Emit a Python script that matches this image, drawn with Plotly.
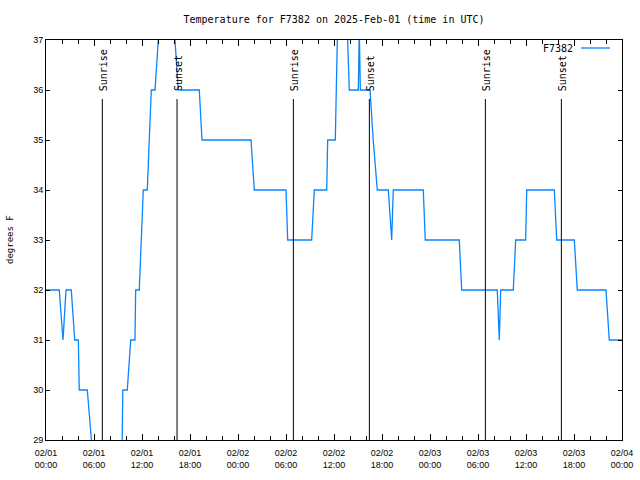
import plotly.graph_objects as go
from datetime import datetime, timedelta

# ---- data (hours after 2025-02-01 00:00 UTC, temperature in degrees F) ----
hours = [0.0, 1.66, 2.125, 2.5, 3.16, 3.59, 4.04, 4.16, 5.16, 5.59, 6.2, 9.45,
         9.6, 10.16, 10.59, 11.12, 11.21, 11.66, 12.16, 12.66, 13.16, 13.625,
         14.04, 14.45, 15.7, 16.54, 19.16, 19.5, 25.625, 26.04, 30.0, 30.21,
         33.21, 33.54, 35.09, 35.21, 36.16, 36.41, 36.54, 37.5, 37.91, 39.04,
         39.16, 39.29, 40.5, 40.9, 41.41, 42.79, 43.21, 43.41, 47.16, 47.41,
         51.66, 51.96, 56.41, 56.66, 56.84, 58.41, 58.71, 59.96, 60.09, 63.54,
         63.84, 66.04, 66.41, 70.0, 70.41, 72.0]
temps = [32, 32, 31, 32, 32, 31, 31, 30, 30, 29, 28, 28,
         30, 30, 31, 31, 32, 32, 34, 34, 36, 36,
         37, 38, 38, 36, 36, 35, 35, 34, 34, 33,
         33, 34, 34, 35, 35, 37, 38, 38, 36, 36,
         37.2, 36, 36, 35, 34, 34, 33, 34, 34, 33,
         33, 32, 32, 31, 32, 32, 33, 33, 34, 34,
         33, 33, 32, 32, 31, 31]
sunrise_hours = [7.04, 30.92, 54.92]
sunset_hours = [16.38, 40.42, 64.42]
tick_hours = [0, 6, 12, 18, 24, 30, 36, 42, 48, 54, 60, 66, 72]
tick_labels = ["02/01<br>00:00", "02/01<br>06:00", "02/01<br>12:00", "02/01<br>18:00",
               "02/02<br>00:00", "02/02<br>06:00", "02/02<br>12:00", "02/02<br>18:00",
               "02/03<br>00:00", "02/03<br>06:00", "02/03<br>12:00", "02/03<br>18:00",
               "02/04<br>00:00"]
y_range = [29, 37]
sun_line_top = 35.82
station = "F7382"

base = datetime(2025, 2, 1)
def t(h):
    return base + timedelta(hours=h)

LINE = "#0a84ff"
MONO = "DejaVu Sans Mono"
SANS = "Liberation Sans"

W, H = 640, 480

fig = go.Figure()
fig.add_trace(go.Scatter(x=[t(h) for h in hours], y=temps, mode="lines",
                         line=dict(color=LINE, width=1.3), showlegend=False,
                         name=station))

for lst, label in ((sunrise_hours, "Sunrise"), (sunset_hours, "Sunset")):
    for h in lst:
        fig.add_shape(type="line", xref="x", yref="y", x0=t(h), x1=t(h),
                      y0=y_range[0], y1=sun_line_top,
                      line=dict(color="black", width=1))
        fig.add_annotation(x=t(h), y=36, xref="x", yref="y", text=label,
                           textangle=-90, showarrow=False, xanchor="center",
                           yanchor="bottom", yshift=-3, xshift=1,
                           font=dict(family=MONO, size=10, color="black"))

# legend drawn gnuplot-style: text then line sample
fig.add_annotation(xref="paper", yref="paper", x=(575 - 46) / 576, y=1 - 8 / 400,
                   text=station, showarrow=False, xanchor="right", yanchor="middle",
                   font=dict(family=MONO, size=10, color="black"))
fig.add_shape(type="line", xref="paper", yref="paper",
              x0=(581 - 46) / 576, x1=(610 - 46) / 576, y0=1 - 8 / 400, y1=1 - 8 / 400,
              line=dict(color=LINE, width=1.3))

# y axis title
fig.add_annotation(xref="paper", yref="paper", x=(10 - 46) / 576, y=0.5,
                   text="degrees F", textangle=-90, showarrow=False,
                   xanchor="center", yanchor="middle",
                   font=dict(family=MONO, size=9, color="black"))

fig.update_layout(
    width=W, height=H,
    margin=dict(l=46, r=18, t=40, b=40),
    paper_bgcolor="white", plot_bgcolor="white",
    hovermode=False,
    title=dict(text="Temperature for F7382 on 2025-Feb-01 (time in UTC)",
               x=334 / W, xanchor="center", y=1 - 19 / H, yanchor="middle",
               font=dict(family=MONO, size=10, color="black")),
    xaxis=dict(range=[t(0), t(72)], tickvals=[t(h) for h in tick_hours],
               ticktext=tick_labels, ticks="inside", ticklen=6, tickcolor="black",
               showline=True, linecolor="black", linewidth=1, mirror="allticks",
               showgrid=False, zeroline=False, ticklabelstandoff=4,
               automargin=False, ticklabeloverflow="allow",
               tickfont=dict(family=SANS, size=9, color="black"),
               minor=dict(dtick=2 * 3600 * 1000, ticks="inside", ticklen=4,
                          tickcolor="black", showgrid=False)),
    yaxis=dict(range=y_range, dtick=1, ticks="inside", ticklen=4, tickcolor="black",
               showline=True, linecolor="black", linewidth=1, mirror="allticks",
               showgrid=False, zeroline=False, automargin=False,
               ticklabeloverflow="allow",
               tickfont=dict(family=SANS, size=9, color="black")),
)

# remove the browser's default 8px page margin so the figure fills the window
fig.write_html("out.html",
               config={"displayModeBar": False, "staticPlot": True},
               post_script="document.body.style.margin='0';"
                           "document.body.style.overflow='hidden';")
